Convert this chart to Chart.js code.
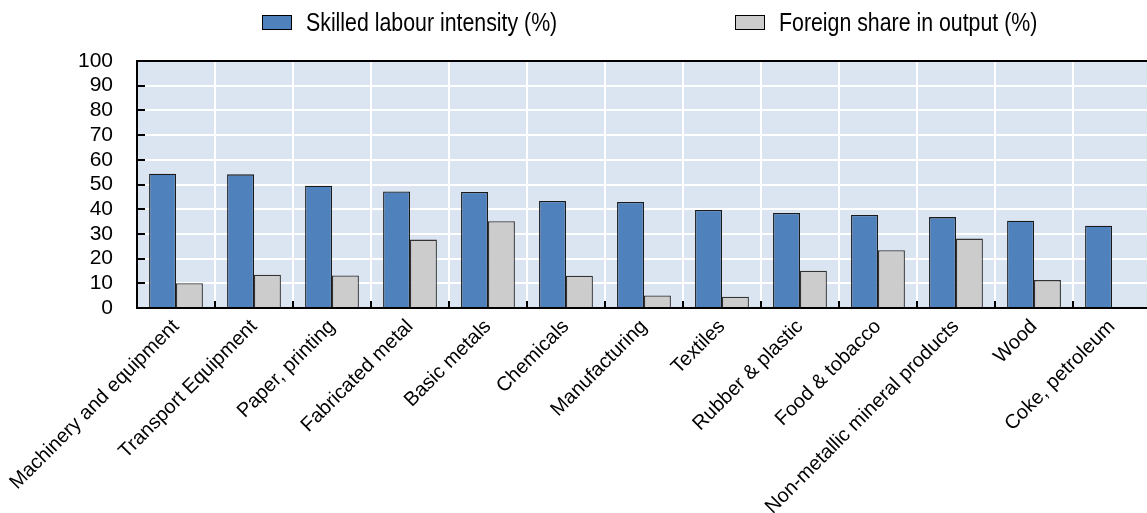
<!DOCTYPE html>
<html>
<head>
<meta charset="utf-8">
<script src="https://cdn.jsdelivr.net/npm/chart.js@4.4.1/dist/chart.umd.min.js"></script>
<style>
  html, body { margin: 0; padding: 0; background: #fff; overflow: hidden; }
  #wrap { position: relative; width: 1151px; height: 513px; }
  #chart { position: absolute; left: 0; top: 0; }
  .leg { position: absolute; top: 7px; display: flex; align-items: center;
         font-family: "Liberation Sans", Arial, sans-serif;
         font-size: 26px; color: #000; white-space: nowrap; }
  .leg .box { width: 28px; height: 13px; border: 1px solid #000; margin-right: 14px; flex: none; }
  .leg .txt { display: inline-block; transform: scaleX(0.82); transform-origin: left center; }
</style>
</head>
<body>
<div id="wrap">
  <canvas id="chart" width="1151" height="513"></canvas>
  <div class="leg" style="left:262px"><span class="box" style="background:#4f81bd"></span><span class="txt">Skilled labour intensity (%)</span></div>
  <div class="leg" style="left:735px"><span class="box" style="background:#cccccc"></span><span class="txt">Foreign share in output (%)</span></div>
</div>
<script>
const categories = ["Machinery and equipment", "Transport Equipment", "Paper, printing", "Fabricated metal",
  "Basic metals", "Chemicals", "Manufacturing", "Textiles", "Rubber & plastic", "Food & tobacco",
  "Non-metallic mineral products", "Wood", "Coke, petroleum"];
const skilledLabour = [54.4, 54.1, 49.5, 47.2, 47.0, 43.3, 42.9, 39.7, 38.5, 37.7, 36.8, 35.3, 33.3];
const foreignShare = [10.0, 13.5, 13.2, 27.7, 35.1, 13.1, 5.1, 4.6, 15.1, 23.4, 28.1, 11.3, null];
const yTicks = [0, 10, 20, 30, 40, 50, 60, 70, 80, 90, 100];
const seriesNames = ["Skilled labour intensity (%)", "Foreign share in output (%)"];

const FONT = '"Liberation Sans", Arial, sans-serif';

const bgPlugin = {
  id: 'plotBg',
  beforeDraw(chart) {
    const {ctx, chartArea: a} = chart;
    ctx.save();
    ctx.fillStyle = '#dbe5f1';
    ctx.fillRect(a.left, a.top, a.right - a.left, a.bottom - a.top);
    ctx.restore();
  }
};

new Chart(document.getElementById('chart'), {
  type: 'bar',
  data: {
    labels: categories,
    datasets: [
      { label: seriesNames[0], data: skilledLabour, backgroundColor: '#4f81bd', borderColor: '#1a1a1a', borderWidth: 1.3 },
      { label: seriesNames[1], data: foreignShare, backgroundColor: '#cccccc', borderColor: '#333333', borderWidth: 1.3 }
    ]
  },
  options: {
    responsive: false,
    animation: false,
    devicePixelRatio: 1,
    layout: { padding: { top: 61, left: 0, right: 0, bottom: 0 } },
    plugins: { legend: { display: false }, tooltip: { enabled: false } },
    datasets: { bar: { categoryPercentage: 0.69, barPercentage: 1.0 } },
    scales: {
      x: {
        position: 'bottom',
        grid: { color: '#ffffff', lineWidth: 2, offset: true, drawTicks: true, tickLength: -7, tickColor: '#000', tickWidth: 2 },
        border: { display: true, color: '#000', width: 2 },
        ticks: { font: { family: FONT, size: 20 }, color: '#000', minRotation: 45, maxRotation: 45, padding: 14, autoSkip: false },
        afterFit(s) { s.height = 205; s.paddingLeft = 0; s.paddingRight = 0; }
      },
      x2: {
        type: 'category',
        labels: categories,
        position: 'top',
        grid: { display: false, drawTicks: false },
        border: { display: true, color: '#000', width: 2 },
        ticks: { display: false },
        afterFit(s) { s.height = 0; s.paddingLeft = 0; s.paddingRight = 0; }
      },
      y: {
        min: 0, max: 100,
        afterBuildTicks(s) { s.ticks = yTicks.map(v => ({ value: v })); },
        grid: { color: '#ffffff', lineWidth: 2, drawTicks: true, tickLength: -8, tickColor: '#000', tickWidth: 2 },
        border: { display: true, color: '#000', width: 2 },
        ticks: { font: { family: FONT, size: 21 }, color: '#000', padding: 32, autoSkip: false },
        afterFit(s) { s.width = 137; }
      }
    }
  },
  plugins: [bgPlugin]
});
</script>
</body>
</html>
